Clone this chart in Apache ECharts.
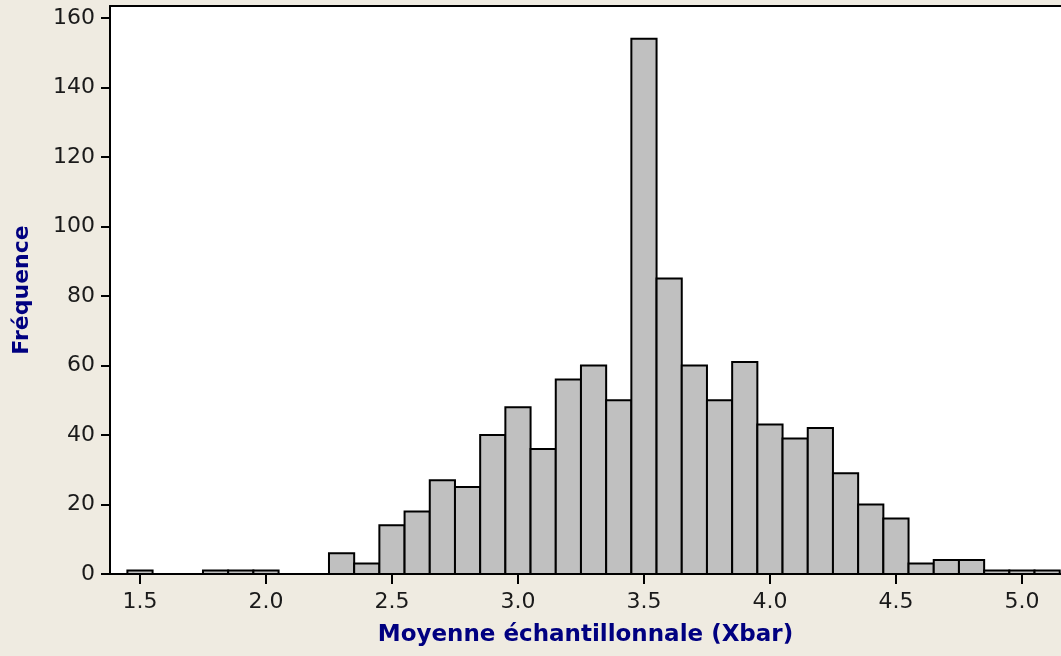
<!DOCTYPE html>
<html>
<head>
<meta charset="utf-8">
<script src="https://cdn.jsdelivr.net/npm/echarts@6/dist/echarts.min.js"></script>
<style>
html,body{margin:0;padding:0;background:#EFEBE1;}
#c{width:1061px;height:656px;}
</style>
</head>
<body>
<div id="c"></div>
<script>
// Bin centres (sample mean, width 0.1) and frequencies
var binCenters = [1.5, 1.8, 1.9, 2.0, 2.3, 2.4, 2.5, 2.6, 2.7, 2.8, 2.9, 3.0, 3.1, 3.2, 3.3, 3.4, 3.5, 3.6, 3.7, 3.8, 3.9, 4.0, 4.1, 4.2, 4.3, 4.4, 4.5, 4.6, 4.7, 4.8, 4.9, 5.0, 5.1];
var frequencies = [1, 1, 1, 1, 6, 3, 14, 18, 27, 25, 40, 48, 36, 56, 60, 50, 154, 85, 60, 50, 61, 43, 39, 42, 29, 20, 16, 3, 4, 4, 1, 1, 1];
var binWidth = 0.1;
var xTicks = [1.5, 2.0, 2.5, 3.0, 3.5, 4.0, 4.5, 5.0];
var yTicks = [0, 20, 40, 60, 80, 100, 120, 140, 160];
var xTitle = 'Moyenne échantillonnale (Xbar)';
var yTitle = 'Fréquence';

var data = binCenters.map(function (c, i) { return [c, frequencies[i]]; });

var chart = echarts.init(document.getElementById('c'), null, {renderer: 'canvas'});
var tickFont = {fontFamily: 'DejaVu Sans', fontSize: 22, color: '#1a1a1a'};
var xMin = 1.381, xMax = 5.155;
chart.setOption({
  backgroundColor: '#EFEBE1',
  animation: false,
  grid: {left: 110, top: 6, right: 0, bottom: 82, show: true, backgroundColor: '#ffffff', borderWidth: 0},
  xAxis: [{
    type: 'value', min: xMin, max: xMax,
    name: xTitle, nameLocation: 'middle', nameGap: 50,
    nameTextStyle: {fontFamily: 'DejaVu Sans', fontWeight: 'bold', fontSize: 23, color: '#000080'},
    axisLine: {show: true, onZero: false, lineStyle: {color: '#000', width: 2}},
    axisTick: {show: true, length: 10, lineStyle: {color: '#000', width: 2}, customValues: xTicks},
    axisLabel: Object.assign({margin: 17, customValues: xTicks, formatter: function (v) { return v.toFixed(1); }}, tickFont),
    splitLine: {show: false}
  }, {
    type: 'value', min: xMin, max: xMax, position: 'top',
    axisLine: {show: true, onZero: false, lineStyle: {color: '#000', width: 2}},
    axisTick: {show: false}, axisLabel: {show: false}, splitLine: {show: false}
  }],
  yAxis: {
    type: 'value', min: 0, max: 163.45,
    name: yTitle, nameLocation: 'middle', nameGap: 77,
    nameTextStyle: {fontFamily: 'DejaVu Sans', fontWeight: 'bold', fontSize: 22, color: '#000080'},
    axisLine: {show: true, lineStyle: {color: '#000', width: 2}},
    axisTick: {show: true, length: 9, lineStyle: {color: '#000', width: 2}, customValues: yTicks},
    axisLabel: Object.assign({margin: 15, customValues: yTicks}, tickFont),
    splitLine: {show: false}
  },
  series: [{
    type: 'custom',
    clip: true,
    xAxisIndex: 0,
    data: data,
    renderItem: function (params, api) {
      var c = api.value(0), v = api.value(1);
      var p0 = api.coord([c - binWidth / 2, v]);
      var p1 = api.coord([c + binWidth / 2, 0]);
      return {
        type: 'rect',
        shape: {x: p0[0], y: p0[1], width: p1[0] - p0[0], height: p1[1] - p0[1]},
        style: {fill: '#C0C0C0', stroke: '#000', lineWidth: 2}
      };
    }
  }]
});
</script>
</body>
</html>
